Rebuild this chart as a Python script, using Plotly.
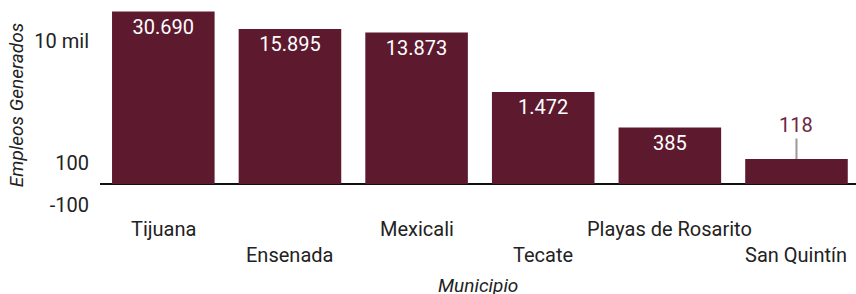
import numpy as np
import plotly.graph_objects as go

municipios = ["Tijuana", "Ensenada", "Mexicali", "Tecate", "Playas de Rosarito", "San Quintín"]
empleos = [30690, 15895, 13873, 1472, 385, 118]
tick_values = [10000, 100, -100]
tick_labels = ["10 mil", "100", "-100"]

LINTHRESH = 100.0
LINSCALE = 0.34


def symlog(v):
    v = np.asarray(v, dtype=float)
    a = np.abs(v)
    out = np.where(a <= LINTHRESH, a / LINTHRESH * LINSCALE,
                   LINSCALE + np.log10(np.maximum(a, 1e-9) / LINTHRESH))
    return np.sign(v) * out


BAR = "#5d1a2f"
FONT = "Roboto"
TXT = "#222222"

y_t = symlog(empleos)
inside = [v >= 300 for v in empleos]

fig = go.Figure()
fig.add_trace(go.Bar(
    x=municipios,
    y=y_t,
    customdata=empleos,
    marker=dict(color=BAR, line=dict(width=0)),
    texttemplate=["%{customdata:,d}" if ok else "" for ok in inside],
    textposition="inside",
    insidetextanchor="end",
    textangle=0,
    textfont=dict(family=FONT, size=20, color="white"),
    hovertemplate="%{x}: %{customdata:,d}<extra></extra>",
))

# outside label with leader line for small bars
for m, v, yt, ok in zip(municipios, empleos, y_t, inside):
    if not ok:
        fig.add_annotation(
            x=m, y=yt, xref="x", yref="y",
            text=f"{v:,}".replace(",", "."),
            showarrow=True, arrowhead=0, arrowwidth=2, arrowcolor="#9a9a9a",
            ax=0, ay=-34, standoff=0,
            font=dict(family=FONT, size=20, color="#6e2545"),
        )

# staggered category labels
for i, m in enumerate(municipios):
    fig.add_annotation(
        x=m, y=0, xref="x", yref="paper",
        text=m, showarrow=False, yanchor="middle",
        yshift=-19 if i % 2 == 0 else -45,
        font=dict(family=FONT, size=20, color=TXT),
    )

fig.add_annotation(
    x=0.5, y=0, xref="paper", yref="paper", text="<i>Municipio</i>",
    showarrow=False, yanchor="middle", yshift=-75,
    font=dict(family=FONT, size=19, color=TXT),
)

fig.update_layout(
    width=856, height=294,
    margin=dict(l=100, r=0, t=0, b=84),
    paper_bgcolor="white", plot_bgcolor="white",
    separators=",.",
    bargap=0.19,
    showlegend=False,
    font=dict(family=FONT, size=20, color=TXT),
    xaxis=dict(
        range=[-0.5, 5.47], showticklabels=False, showgrid=False,
        zeroline=False, showline=False, ticks="", automargin=False,
    ),
    yaxis=dict(
        range=[symlog(-100) - 0.086, 184 / 61],
        tickvals=symlog(tick_values).tolist(), ticktext=tick_labels,
        showgrid=False, ticks="", showline=False, automargin=False,
        zeroline=True, zerolinecolor="#111111", zerolinewidth=2,
        ticklabelstandoff=10,
        tickfont=dict(family=FONT, size=20, color=TXT),
        title=dict(text="<i>Empleos Generados</i>", standoff=5,
                   font=dict(family=FONT, size=19, color=TXT)),
    ),
)

fig.write_html(
    "out.html",
    config={"displayModeBar": False},
    post_script="document.body.style.margin='0';document.body.style.overflow='hidden';",
)
